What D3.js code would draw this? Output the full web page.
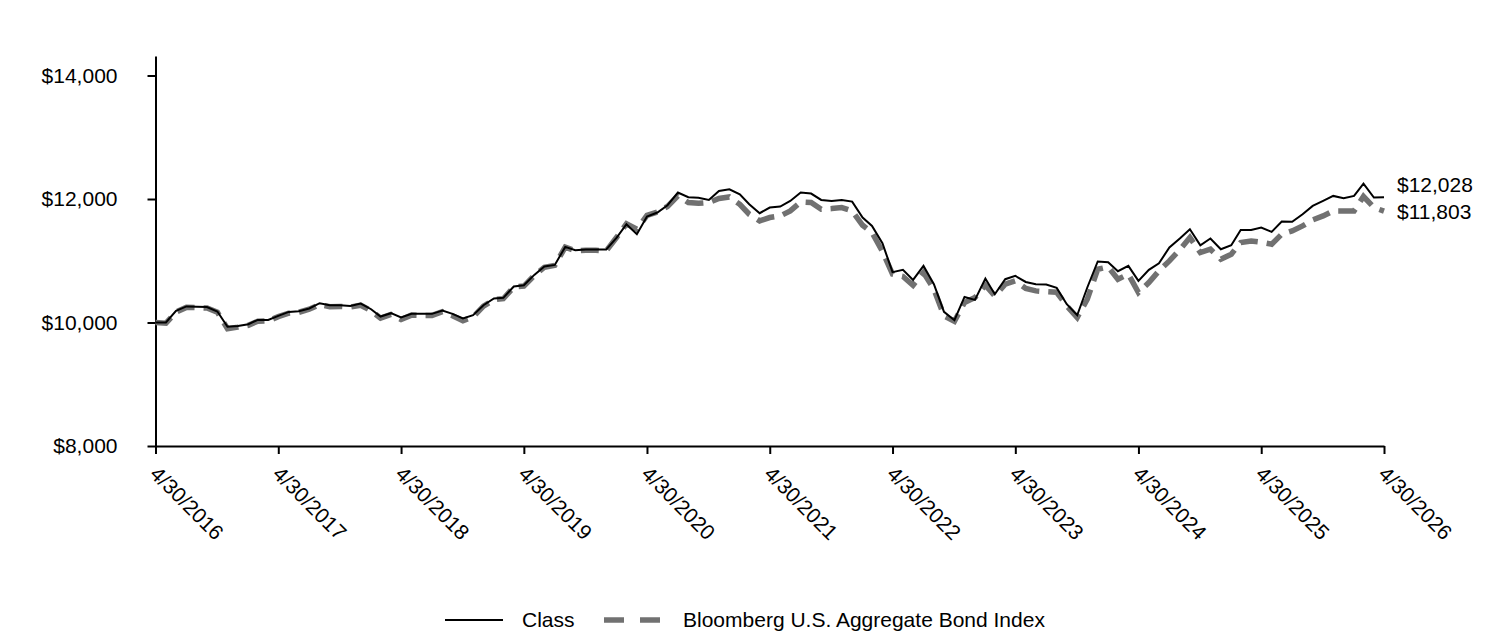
<!DOCTYPE html>
<html>
<head>
<meta charset="utf-8">
<script src="https://cdn.jsdelivr.net/npm/d3@7"></script>
<style>
body { margin: 0; background: #fff; }
text { font-family: "Liberation Sans", Arial, sans-serif; }
</style>
</head>
<body>
<div id="graph"></div>
<script>
var svgWidth = 1512;
var svgHeight = 636;

// month-end values, 4/30/2016 .. 4/30/2026
var class_values = [10000, 10000, 10188, 10260, 10255, 10250, 10178, 9930, 9945, 9972, 10042, 10042,
	10107, 10172, 10183, 10227, 10313, 10280, 10280, 10269, 10307, 10215, 10097, 10151,
	10081, 10140, 10140, 10140, 10194, 10140, 10065, 10118, 10280, 10389, 10399, 10583,
	10604, 10771, 10907, 10933, 11224, 11170, 11182, 11182, 11182, 11376, 11591, 11430,
	11715, 11781, 11899, 12105, 12029, 12020, 11985, 12131, 12158, 12077, 11915, 11770,
	11862, 11878, 11969, 12105, 12088, 11985, 11969, 11985, 11958, 11700, 11564, 11283,
	10815, 10852, 10690, 10917, 10620, 10172, 10037, 10414, 10366, 10712, 10458, 10701,
	10755, 10657, 10620, 10615, 10561, 10296, 10118, 10567, 10988, 10976, 10830, 10917,
	10674, 10852, 10960, 11214, 11360, 11510, 11251, 11360, 11187, 11251, 11499, 11499,
	11538, 11467, 11635, 11630, 11753, 11888, 11969, 12050, 12012, 12050, 12250, 12023,
	12028];

var index_values = [10000, 9990, 10170, 10245, 10240, 10235, 10165, 9900, 9925, 9955, 10020, 10025,
	10095, 10150, 10165, 10215, 10290, 10255, 10260, 10250, 10280, 10190, 10070, 10130,
	10050, 10120, 10115, 10115, 10175, 10110, 10030, 10090, 10265, 10370, 10385, 10575,
	10590, 10760, 10895, 10925, 11220, 11160, 11170, 11170, 11160, 11380, 11600, 11510,
	11735, 11790, 11880, 12050, 11943, 11930, 11943, 12008, 12034, 11915, 11753, 11645,
	11700, 11726, 11807, 11953, 11943, 11834, 11845, 11862, 11807, 11575, 11457, 11150,
	10782, 10745, 10604, 10810, 10539, 10107, 10020, 10324, 10405, 10604, 10431, 10620,
	10674, 10550, 10512, 10500, 10490, 10269, 10081, 10377, 10863, 10900, 10701, 10782,
	10486, 10648, 10836, 10998, 11180, 11376, 11133, 11187, 11025, 11106, 11295, 11321,
	11300, 11268, 11430, 11483, 11564, 11661, 11726, 11807, 11807, 11807, 12040, 11862,
	11803];

var y_ticks = [8000, 10000, 12000, 14000];
var series_names = ["Class", "Bloomberg U.S. Aggregate Bond Index"];

var dates = class_values.map((v, i) => new Date(2016, 4 + i, 0));
var x_ticks = d3.range(0, 11).map(k => new Date(2016 + k, 3, 30));

var svg = d3.select("#graph")
	.append("svg")
	.attr("width", svgWidth)
	.attr("height", svgHeight);

var x = d3.scaleTime()
	.domain([dates[0], dates[dates.length - 1]])
	.range([155.5, 1384]);

var y = d3.scaleLinear()
	.domain([8000, 14316])
	.range([446, 56]);

var fmtDollar = d3.format("$,");

// y axis
var yAxis = svg.append("g")
	.attr("transform", "translate(155.5,0)")
	.call(d3.axisLeft(y).tickValues(y_ticks).tickSize(8).tickPadding(30).tickFormat(fmtDollar).tickSizeOuter(0));
yAxis.selectAll("text").style("font-size", "21px").attr("fill", "#000");

// x axis
var xAxis = svg.append("g")
	.attr("transform", "translate(0,446)")
	.call(d3.axisBottom(x).tickValues(x_ticks).tickSize(8).tickSizeOuter(0).tickFormat(d3.timeFormat("%-m/%d/%Y")));
xAxis.selectAll("text")
	.style("font-size", "21px")
	.attr("fill", "#000")
	.attr("text-anchor", "start")
	.attr("transform", "translate(-2,24) rotate(45)")
	.attr("y", 0)
	.attr("x", 0)
	.attr("dy", "0.35em");

svg.selectAll(".domain, .tick line").attr("stroke", "#000").attr("stroke-width", 2);

var line = d3.line()
	.x((d, i) => x(dates[i]))
	.y(d => y(d));

svg.append("path")
	.datum(index_values)
	.attr("d", line)
	.attr("fill", "none")
	.attr("stroke", "#717171")
	.attr("stroke-width", 5.5)
	.attr("stroke-dasharray", "18,9");

svg.append("path")
	.datum(class_values)
	.attr("d", line)
	.attr("fill", "none")
	.attr("stroke", "#000")
	.attr("stroke-width", 2);

// end labels
var last = dates[dates.length - 1];
svg.append("text")
	.attr("x", x(last) + 13)
	.attr("y", 185)
	.attr("dy", "0.35em")
	.style("font-size", "21px")
	.text(fmtDollar(class_values[class_values.length - 1]));
svg.append("text")
	.attr("x", x(last) + 13)
	.attr("y", 212)
	.attr("dy", "0.35em")
	.style("font-size", "21px")
	.text(fmtDollar(index_values[index_values.length - 1]));

// legend
var legend = svg.append("g").attr("transform", "translate(0,620)");
legend.append("line")
	.attr("x1", 445).attr("x2", 503)
	.attr("stroke", "#000").attr("stroke-width", 2);
legend.append("text")
	.attr("x", 522).attr("dy", "0.35em")
	.style("font-size", "21px")
	.text(series_names[0]);
legend.append("line")
	.attr("x1", 604).attr("x2", 660)
	.attr("stroke", "#717171").attr("stroke-width", 5.5)
	.attr("stroke-dasharray", "20,16");
legend.append("text")
	.attr("x", 683).attr("dy", "0.35em")
	.style("font-size", "21px")
	.text(series_names[1]);
</script>
</body>
</html>
